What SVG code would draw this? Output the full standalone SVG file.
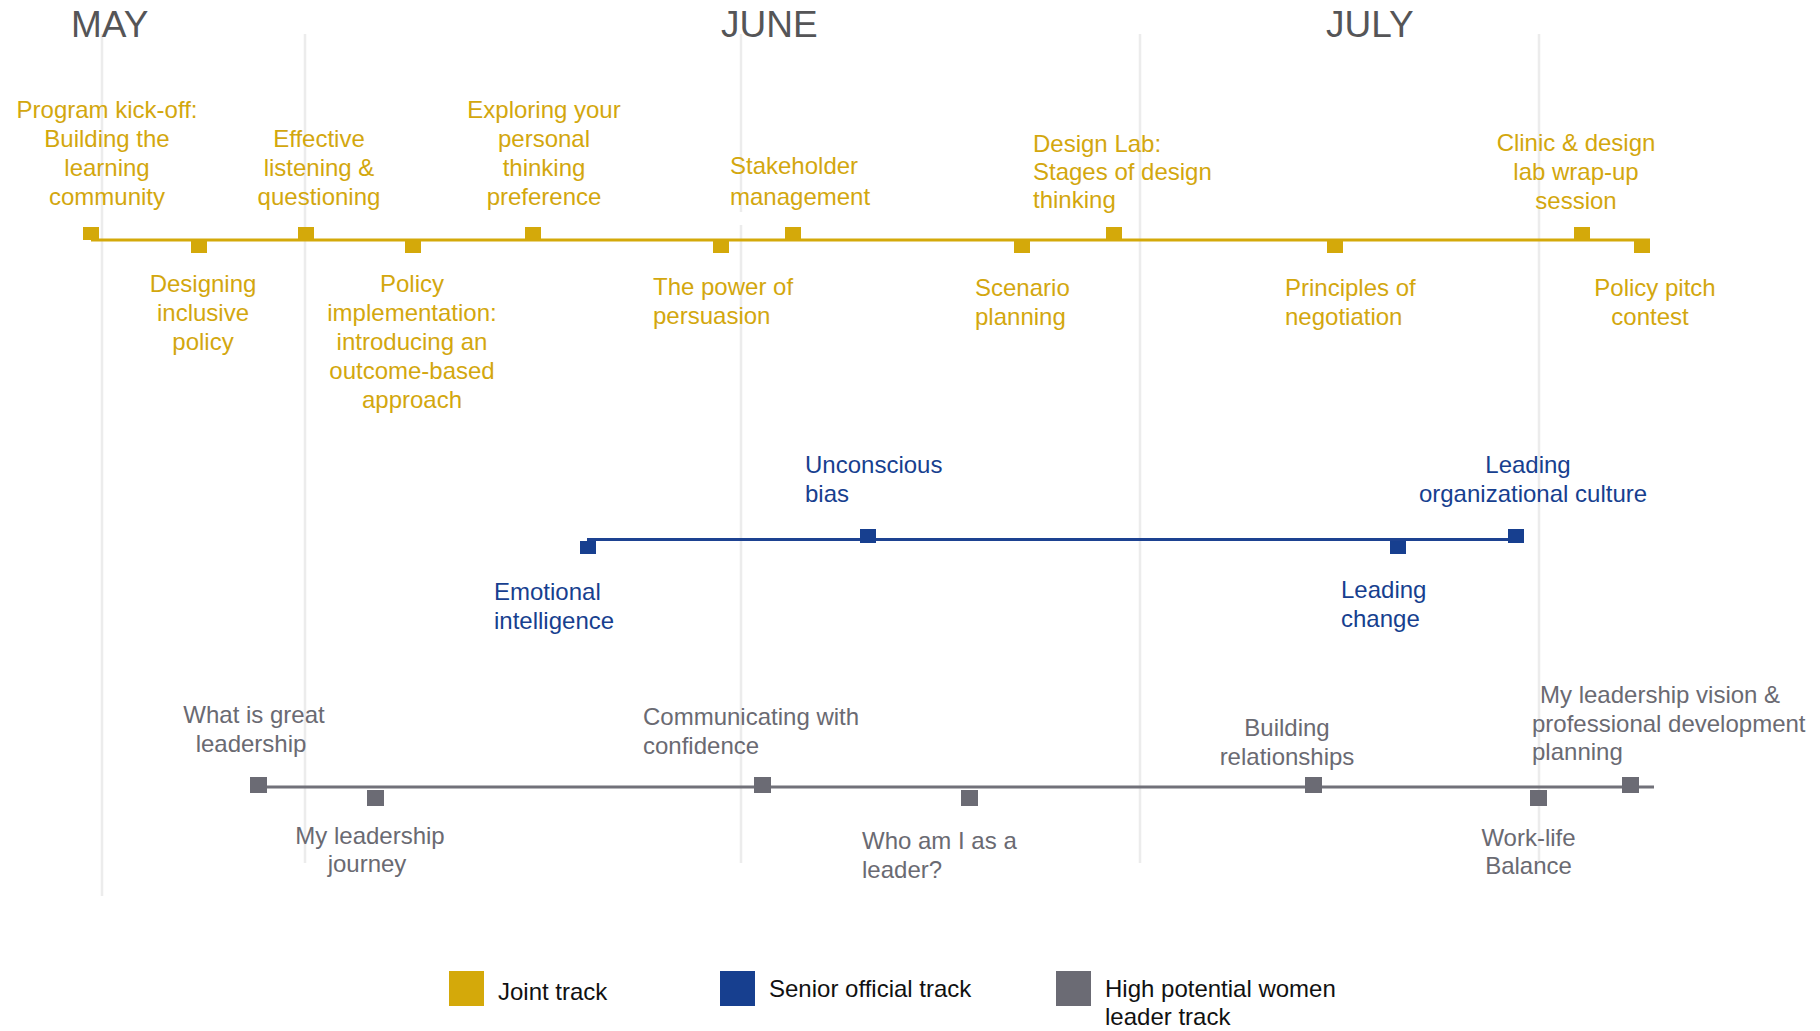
<svg xmlns="http://www.w3.org/2000/svg" width="1820" height="1031" viewBox="0 0 1820 1031">
<style>
text{font-family:"Liberation Sans",Arial,sans-serif;font-size:24px}
.month{font-size:37px;fill:#555557}
.grid{stroke:#ececec;stroke-width:2.5;fill:none}
.gj{fill:#D4A90A}
.gb{fill:#173F8F}
.gg{fill:#6B6B74}
.tj{fill:#D3A70E}
.tb{fill:#173F8F}
.tg{fill:#6A6A72}
.tl{fill:#111111}
.m{text-anchor:middle}
</style>
<rect width="1820" height="1031" fill="#ffffff"/>
<g id="grid">
<line class="grid" x1="102" y1="34" x2="102" y2="896"/>
<line class="grid" x1="305" y1="34" x2="305" y2="863"/>
<line class="grid" x1="741" y1="34" x2="741" y2="212"/>
<line class="grid" x1="741" y1="225" x2="741" y2="863"/>
<line class="grid" x1="1140" y1="34" x2="1140" y2="863"/>
<line class="grid" x1="1539" y1="34" x2="1539" y2="863"/>
</g>
<g id="months">
<text class="month" x="71" y="37">MAY</text>
<text class="month" x="721" y="37">JUNE</text>
<text class="month" x="1326" y="37">JULY</text>
</g>
<g id="connectors">
<line x1="91" y1="240" x2="1650" y2="240" stroke="#D4A90A" stroke-width="3"/>
<line x1="587" y1="539.5" x2="1524" y2="539.5" stroke="#1D4291" stroke-width="3"/>
<line x1="256" y1="787" x2="1654" y2="787" stroke="#717179" stroke-width="3"/>
</g>
<g id="joint-kickoff"><rect class="gj" x="83" y="227" width="16" height="13"/>
<text class="tj m"><tspan x="107" y="118">Program kick-off:</tspan><tspan x="107" y="147">Building the</tspan><tspan x="107" y="176">learning</tspan><tspan x="107" y="205">community</tspan></text></g>
<g id="joint-inclusive"><rect class="gj" x="191" y="240" width="16" height="13"/>
<text class="tj m"><tspan x="203" y="292">Designing</tspan><tspan x="203" y="321">inclusive</tspan><tspan x="203" y="350">policy</tspan></text></g>
<g id="joint-listening"><rect class="gj" x="298" y="227" width="16" height="13"/>
<text class="tj m"><tspan x="319" y="147">Effective</tspan><tspan x="319" y="176">listening &amp;</tspan><tspan x="319" y="205">questioning</tspan></text></g>
<g id="joint-policy-impl"><rect class="gj" x="405" y="240" width="16" height="13"/>
<text class="tj m"><tspan x="412" y="292">Policy</tspan><tspan x="412" y="321">implementation:</tspan><tspan x="412" y="350">introducing an</tspan><tspan x="412" y="379">outcome-based</tspan><tspan x="412" y="408">approach</tspan></text></g>
<g id="joint-thinking"><rect class="gj" x="525" y="227" width="16" height="13"/>
<text class="tj m"><tspan x="544" y="118">Exploring your</tspan><tspan x="544" y="147">personal</tspan><tspan x="544" y="176">thinking</tspan><tspan x="544" y="205">preference</tspan></text></g>
<g id="joint-persuasion"><rect class="gj" x="713" y="240" width="16" height="13"/>
<text class="tj"><tspan x="653" y="295">The power of</tspan><tspan x="653" y="324">persuasion</tspan></text></g>
<g id="joint-stakeholder"><rect class="gj" x="785" y="227" width="16" height="13"/>
<text class="tj"><tspan x="730" y="174">Stakeholder</tspan><tspan x="730" y="205">management</tspan></text></g>
<g id="joint-scenario"><rect class="gj" x="1014" y="240" width="16" height="13"/>
<text class="tj"><tspan x="975" y="296">Scenario</tspan><tspan x="975" y="325">planning</tspan></text></g>
<g id="joint-designlab"><rect class="gj" x="1106" y="227" width="16" height="13"/>
<text class="tj"><tspan x="1033" y="152">Design Lab:</tspan><tspan x="1033" y="180">Stages of design</tspan><tspan x="1033" y="208">thinking</tspan></text></g>
<g id="joint-negotiation"><rect class="gj" x="1327" y="240" width="16" height="13"/>
<text class="tj"><tspan x="1285" y="296">Principles of</tspan><tspan x="1285" y="325">negotiation</tspan></text></g>
<g id="joint-clinic"><rect class="gj" x="1574" y="227" width="16" height="13"/>
<text class="tj m"><tspan x="1576" y="151">Clinic &amp; design</tspan><tspan x="1576" y="180">lab wrap-up</tspan><tspan x="1576" y="209">session</tspan></text></g>
<g id="joint-pitch"><rect class="gj" x="1634" y="240" width="16" height="13"/>
<text class="tj m"><tspan x="1655" y="296">Policy pitch</tspan><tspan x="1650" y="325">contest</tspan></text></g>
<g id="senior-emotional"><rect class="gb" x="580" y="541" width="16" height="13"/>
<text class="tb"><tspan x="494" y="600">Emotional</tspan><tspan x="494" y="629">intelligence</tspan></text></g>
<g id="senior-bias"><rect class="gb" x="860" y="529" width="16" height="14"/>
<text class="tb"><tspan x="805" y="473">Unconscious</tspan><tspan x="805" y="502">bias</tspan></text></g>
<g id="senior-change"><rect class="gb" x="1390" y="541" width="16" height="13"/>
<text class="tb"><tspan x="1341" y="598">Leading</tspan><tspan x="1341" y="627">change</tspan></text></g>
<g id="senior-culture"><rect class="gb" x="1508" y="529" width="16" height="14"/>
<text class="tb m"><tspan x="1528" y="473">Leading</tspan><tspan x="1533" y="502">organizational culture</tspan></text></g>
<g id="hpw-great"><rect class="gg" x="250" y="777" width="17" height="16"/>
<text class="tg m"><tspan x="254" y="723">What is great</tspan><tspan x="251" y="752">leadership</tspan></text></g>
<g id="hpw-journey"><rect class="gg" x="367" y="790" width="17" height="16"/>
<text class="tg m"><tspan x="370" y="844">My leadership</tspan><tspan x="367" y="872">journey</tspan></text></g>
<g id="hpw-confidence"><rect class="gg" x="754" y="777" width="17" height="16"/>
<text class="tg"><tspan x="643" y="725">Communicating with</tspan><tspan x="643" y="754">confidence</tspan></text></g>
<g id="hpw-whoami"><rect class="gg" x="961" y="790" width="17" height="16"/>
<text class="tg"><tspan x="862" y="849">Who am I as a</tspan><tspan x="862" y="878">leader?</tspan></text></g>
<g id="hpw-relationships"><rect class="gg" x="1305" y="777" width="17" height="16"/>
<text class="tg m"><tspan x="1287" y="736">Building</tspan><tspan x="1287" y="765">relationships</tspan></text></g>
<g id="hpw-worklife"><rect class="gg" x="1530" y="790" width="17" height="16"/>
<text class="tg m"><tspan x="1528.5" y="846">Work-life</tspan><tspan x="1528.5" y="874">Balance</tspan></text></g>
<g id="hpw-vision"><rect class="gg" x="1622" y="777" width="17" height="16"/>
<text class="tg"><tspan x="1540" y="703">My leadership vision &amp;</tspan><tspan x="1532" y="732">professional development</tspan><tspan x="1532" y="760">planning</tspan></text></g>
<g id="legend">
<rect class="gj" x="449" y="971" width="35" height="35"/>
<text class="tl" x="498" y="1000">Joint track</text>
<rect class="gb" x="720" y="971" width="35" height="35"/>
<text class="tl" x="769" y="997">Senior official track</text>
<rect class="gg" x="1056" y="971" width="35" height="35"/>
<text class="tl"><tspan x="1105" y="997">High potential women</tspan><tspan x="1105" y="1025">leader track</tspan></text>
</g>
</svg>
